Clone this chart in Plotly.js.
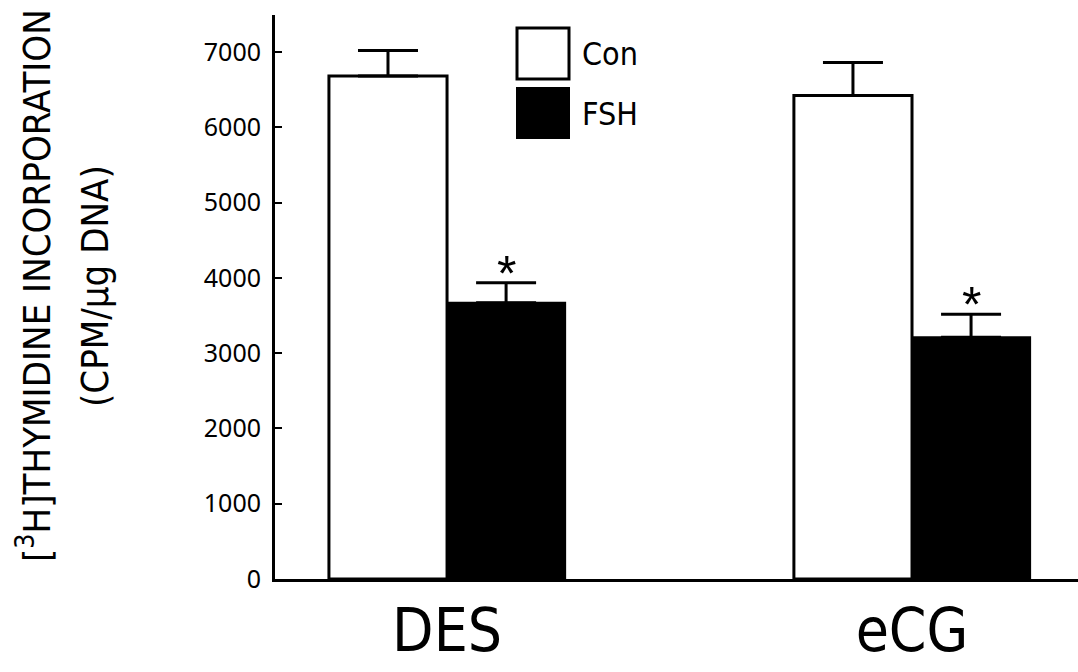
<!DOCTYPE html>
<html>
<head>
<meta charset="utf-8">
<script src="https://cdn.plot.ly/plotly-3.0.1.min.js"></script>
<style>html,body{margin:0;padding:0;background:#fff;}#chart{width:1078px;height:672px;}</style>
</head>
<body>
<div id="chart"></div>
<script>
// ---- data ----
const categories = ['DES', 'eCG'];
const conValues = [6680, 6420];
const conErrors = [340, 440];
const fshValues = [3670, 3210];
const fshErrors = [265, 305];
const significant = ['*', '*'];
const yTickVals = [0, 1000, 2000, 3000, 4000, 5000, 6000, 7000];
const seriesNames = ['Con', 'FSH'];

// ---- styling / layout ----
const BAR_W = 0.254;
const idx = categories.map((_, i) => i);
const NARROW = '"DejaVu Sans Condensed", "Liberation Sans Narrow", sans-serif';

const conTrace = {
  type: 'bar', name: seriesNames[0], x: idx, y: conValues,
  width: BAR_W, offset: -BAR_W,
  marker: {color: '#ffffff', line: {color: '#000', width: 3}},
  error_y: {type: 'data', symmetric: false, array: conErrors, arrayminus: conErrors.map(() => 0),
            color: '#000', thickness: 3, width: 30},
  showlegend: false, hoverinfo: 'skip'
};
const fshTrace = {
  type: 'bar', name: seriesNames[1], x: idx, y: fshValues,
  width: BAR_W, offset: 0,
  marker: {color: '#000000', line: {color: '#000', width: 2}},
  error_y: {type: 'data', symmetric: false, array: fshErrors, arrayminus: fshErrors.map(() => 0),
            color: '#000', thickness: 3, width: 30},
  showlegend: false, hoverinfo: 'skip'
};

const starAnnotations = idx.map(i => ({
  xref: 'x', yref: 'y', x: i + BAR_W / 2, y: fshValues[i] + fshErrors[i],
  xanchor: 'center', yanchor: 'bottom', yshift: -21, showarrow: false,
  text: significant[i], font: {family: '"Liberation Sans", sans-serif', size: 50, color: '#000'}
}));

const L = 275, R = 0, T = 15, B = 93;
const W = 1078, H = 672;
const pw = W - L - R, ph = H - T - B;
const px = v => (v - L) / pw;
const py = v => (H - B - v) / ph;

const layout = {
  width: W, height: H,
  margin: {l: L, r: R, t: T, b: B, pad: 0},
  paper_bgcolor: '#fff', plot_bgcolor: '#fff',
  barmode: 'overlay',
  showlegend: false,
  xaxis: {
    type: 'linear', range: [-0.370, 1.357],
    tickvals: idx, ticktext: categories,
    showgrid: false, zeroline: false, showline: true, linecolor: '#000', linewidth: 3,
    ticks: '', tickfont: {family: NARROW, size: 60, color: '#000'},
    ticklabelstandoff: -3, fixedrange: true
  },
  yaxis: {
    range: [0, 7490], tickvals: yTickVals,
    showgrid: false, zeroline: false, showline: true, linecolor: '#000', linewidth: 3,
    ticks: 'inside', ticklen: 7, tickwidth: 2, tickcolor: '#000',
    tickfont: {family: '"Noto Sans", sans-serif', size: 25, color: '#000'},
    ticklabelstandoff: 6, fixedrange: true
  },
  shapes: [
    {type: 'rect', xref: 'paper', yref: 'paper', x0: px(517), x1: px(569), y0: py(79), y1: py(28),
     line: {color: '#000', width: 3}, fillcolor: '#fff'},
    {type: 'rect', xref: 'paper', yref: 'paper', x0: px(517), x1: px(569), y0: py(138), y1: py(88),
     line: {color: '#000', width: 2}, fillcolor: '#000'}
  ],
  annotations: starAnnotations.concat([
    {xref: 'paper', yref: 'paper', x: px(580), y: py(54), xanchor: 'left', yanchor: 'middle',
     text: seriesNames[0], showarrow: false, font: {family: NARROW, size: 32, color: '#000'}},
    {xref: 'paper', yref: 'paper', x: px(580), y: py(114), xanchor: 'left', yanchor: 'middle',
     text: seriesNames[1], showarrow: false, font: {family: NARROW, size: 32, color: '#000'}},
    {xref: 'paper', yref: 'paper', x: px(34), y: py(286), xanchor: 'center', yanchor: 'middle',
     textangle: -90, showarrow: false,
     text: '[<sup>3</sup>H]THYMIDINE INCORPORATION', font: {family: NARROW, size: 38, color: '#000'}},
    {xref: 'paper', yref: 'paper', x: px(95), y: py(286), xanchor: 'center', yanchor: 'middle',
     textangle: -90, showarrow: false,
     text: '(CPM/µg DNA)', font: {family: NARROW, size: 38, color: '#000'}}
  ])
};

Plotly.newPlot('chart', [conTrace, fshTrace], layout, {staticPlot: true, displayModeBar: false});
</script>
</body>
</html>
